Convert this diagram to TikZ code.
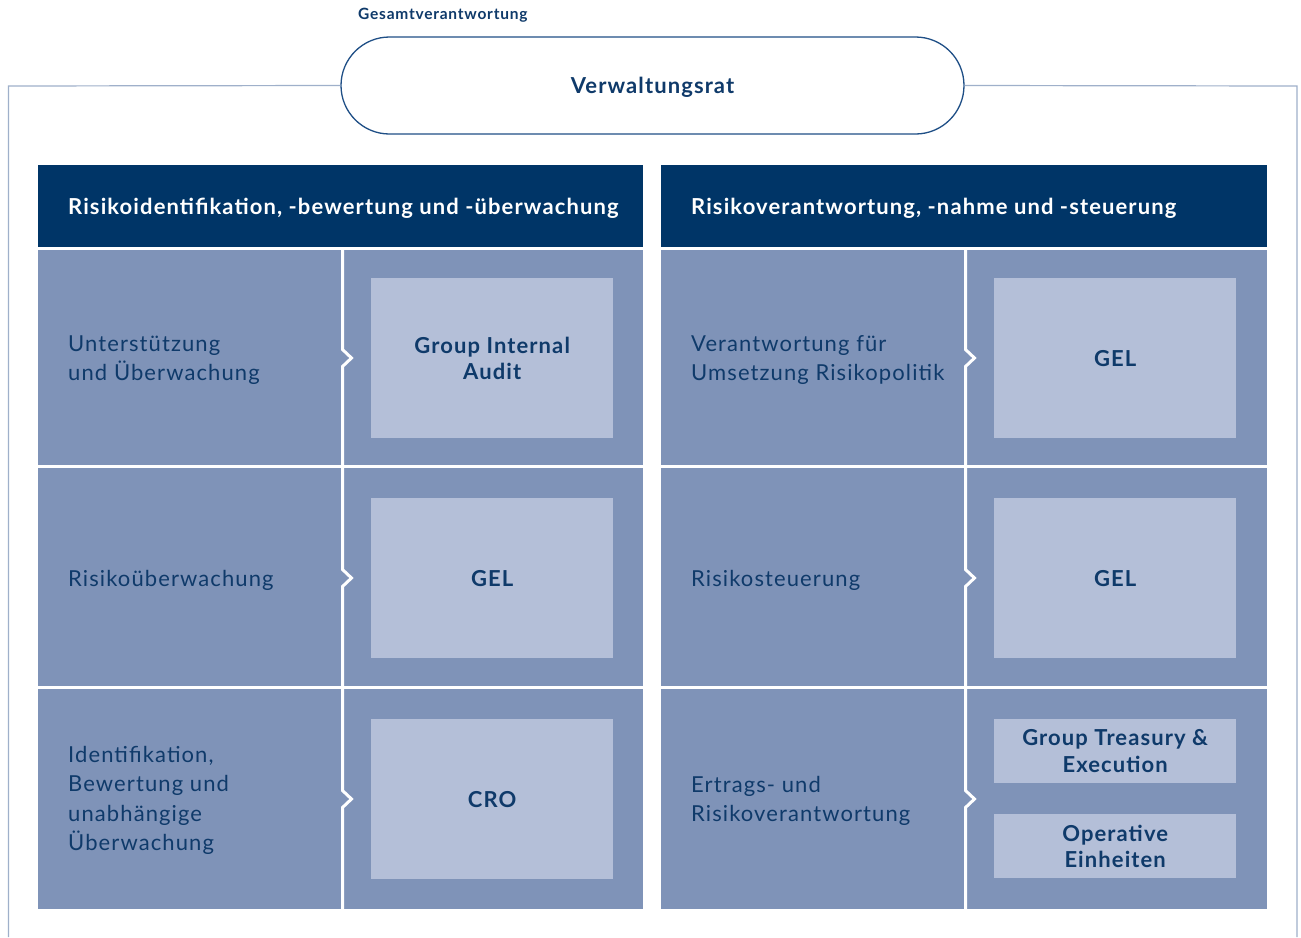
\documentclass[tikz,border=0pt]{standalone}
\usepackage{fontspec}
\setmainfont{Lato}
\newfontfamily\trk{Lato}[LetterSpace=5]
\begin{document}
\begin{tikzpicture}[x=1pt,y=-1pt,
  navy/.style={fill=hdr,draw=none,inner sep=0pt,anchor=north west},
  rowcell/.style={fill=mid,draw=none,inner sep=0pt,anchor=north west,minimum width=605pt},
  inbox/.style={fill=lite,draw=none,inner sep=0pt,anchor=north west,minimum width=242pt},
  boxtxt/.style={text=txt,align=center,inner sep=0pt,font=\trk\fontsize{22}{26.5}\selectfont\bfseries},
  lbl/.style={anchor=west,align=left,inner sep=0pt,text=txt,font=\trk\fontsize{22}{29.5}\selectfont},
  hdrtxt/.style={anchor=west,inner sep=0pt,text=white,font=\trk\fontsize{22}{25}\selectfont\bfseries},
  divider/.style={draw=white,line width=3pt},
  frame/.style={draw=frm,line width=1.2pt}
]
\definecolor{hdr}{HTML}{003567}
\definecolor{mid}{HTML}{7F93B8}
\definecolor{lite}{HTML}{B4BFD8}
\definecolor{txt}{HTML}{0F3A6A}
\definecolor{frm}{HTML}{9FB0CA}
\definecolor{pill}{HTML}{1F4F86}
\useasboundingbox (0,0) rectangle (1301,937);
\fill[white] (0,0) rectangle (1301,937);
% pill
\node[draw=pill,line width=1.3pt,rounded corners=48.5pt,minimum width=623pt,minimum height=97pt,inner sep=0pt] (vr) at (652.5,85.5) {};
\node[inner sep=0pt,text=txt,font=\trk\fontsize{22}{26}\selectfont\bfseries] (vrt) at (652.5,87.5) {Verwaltungsrat};
\node[anchor=west,inner sep=0pt,text=txt,font=\trk\fontsize{15.5}{18}\selectfont\bfseries] (gv) at (358,15.5) {Gesamtverantwortung};
% frame
\coordinate (fl) at (8.5,937);
\coordinate (fr) at (1297,937);
\draw[frame] (vr.west) -- (8.5,86) -- (fl);
\draw[frame] (vr.east) -- (1297,86) -- (fr);
% headers
\node[navy,minimum width=605pt,minimum height=82pt] (h1) at (38,165) {};
\node[navy,minimum width=606pt,minimum height=82pt] (h2) at (661,165) {};
\node[hdrtxt] at (68,208) {Risikoidentifikation, -bewertung und -überwachung};
\node[hdrtxt] at (691,208) {Risikoverantwortung, -nahme und -steuerung};
% rows left
\node[rowcell,minimum height=215pt] (l1) at (38,250) {};
\node[rowcell,minimum height=218pt] (l2) at (38,468) {};
\node[rowcell,minimum height=220pt] (l3) at (38,689) {};
% rows right
\node[rowcell,minimum width=606pt,minimum height=215pt] (r1) at (661,250) {};
\node[rowcell,minimum width=606pt,minimum height=218pt] (r2) at (661,468) {};
\node[rowcell,minimum width=606pt,minimum height=220pt] (r3) at (661,689) {};
% dividers with chevrons
\foreach \x/\ya/\yc/\yb in {342.5/250/358/465, 342.5/468/578/686, 342.5/689/799/909, 965.5/250/358/465, 965.5/468/578/686, 965.5/689/799/909}{
  \draw[divider] (\x,\ya) -- (\x,\yc-8.5) -- (\x+9,\yc) -- (\x,\yc+8.5) -- (\x,\yb);
}
% labels left
\node[lbl] (t1) at (68,360) {Unterstützung\\und Überwachung};
\node[lbl] (t2) at (68,580) {Risikoüberwachung};
\node[lbl] (t3) at (68,800.5) {Identifikation,\\Bewertung und\\unabhängige\\Überwachung};
% labels right
\node[lbl] (u1) at (691,360) {Verantwortung für\\Umsetzung Risikopolitik};
\node[lbl] (u2) at (691,580) {Risikosteuerung};
\node[lbl] (u3) at (691,801) {Ertrags- und\\Risikoverantwortung};
% inner boxes left
\node[inbox,minimum height=160pt] (b1) at (371,278) {};
\node[boxtxt] at (b1.center) {Group Internal\\Audit};
\node[inbox,minimum height=160pt] (b2) at (371,498) {};
\node[boxtxt] at (b2.center) {GEL};
\node[inbox,minimum height=160pt] (b3) at (371,719) {};
\node[boxtxt] at (b3.center) {CRO};
% inner boxes right
\node[inbox,minimum height=160pt] (c1) at (994,278) {};
\node[boxtxt] at (c1.center) {GEL};
\node[inbox,minimum height=160pt] (c2) at (994,498) {};
\node[boxtxt] at (c2.center) {GEL};
\node[inbox,minimum height=64pt] (c3) at (994,719) {};
\node[boxtxt] at (c3.center) {Group Treasury \&\\Execution};
\node[inbox,minimum height=64pt] (c4) at (994,814) {};
\node[boxtxt] at (c4.center) {Operative\\Einheiten};
\end{tikzpicture}
\end{document}
